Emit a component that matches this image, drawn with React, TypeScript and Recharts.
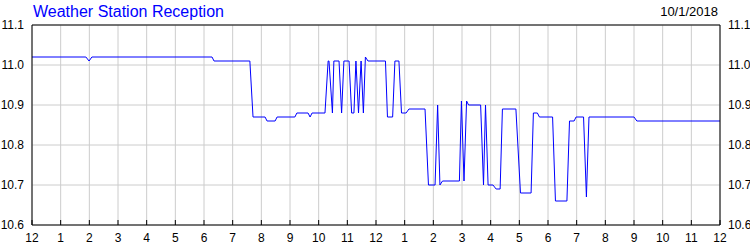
import React from "react";
import {
  LineChart,
  Line,
  XAxis,
  YAxis,
  CartesianGrid,
  ReferenceLine,
} from "recharts";

// hours since midnight
const hours = [
  0, 1.88, 1.99, 2.09, 6.28, 6.35, 7.6, 7.71, 8.13, 8.2, 8.48, 8.55, 9.17,
  9.24, 9.63, 9.7, 9.77, 10.22, 10.33, 10.36, 10.48, 10.53, 10.71, 10.8, 10.88,
  11.06, 11.15, 11.23, 11.3, 11.39, 11.48, 11.56, 11.63, 11.72, 12.33, 12.4,
  12.58, 12.66, 12.8, 12.89, 13.05, 13.15, 13.71, 13.83, 14.06, 14.15, 14.23,
  14.32, 14.91, 14.98, 15.07, 15.16, 15.23, 15.65, 15.75, 15.82, 15.91, 16.08,
  16.19, 16.33, 16.41, 16.88, 17.04, 17.41, 17.49, 17.63, 17.7, 18.16, 18.26,
  18.66, 18.75, 18.91, 18.98, 19.24, 19.34, 19.43, 21.0, 21.1, 24,
];

const reception = [
  11.02, 11.02, 11.01, 11.02, 11.02, 11.01, 11.01, 10.87, 10.87, 10.86, 10.86,
  10.87, 10.87, 10.88, 10.88, 10.87, 10.88, 10.88, 11.01, 11.01, 10.88, 11.01,
  11.01, 10.88, 11.01, 11.01, 10.88, 10.88, 11.01, 10.88, 11.01, 10.88, 11.02,
  11.01, 11.01, 10.87, 10.87, 11.01, 11.01, 10.88, 10.88, 10.89, 10.89, 10.7,
  10.7, 10.9, 10.7, 10.71, 10.71, 10.91, 10.71, 10.91, 10.9, 10.9, 10.7, 10.9,
  10.7, 10.7, 10.69, 10.69, 10.89, 10.89, 10.68, 10.68, 10.88, 10.88, 10.87,
  10.87, 10.66, 10.66, 10.86, 10.86, 10.87, 10.87, 10.67, 10.87, 10.87, 10.86,
  10.86,
];

const hourTicks = [
  0, 1, 2, 3, 4, 5, 6, 7, 8, 9, 10, 11, 12, 13, 14, 15, 16, 17, 18, 19, 20, 21,
  22, 23, 24,
];
const valueTicks = [10.6, 10.7, 10.8, 10.9, 11.0, 11.1];

const data = hours.map((h, i) => ({ h, v: reception[i] }));

const font = "'Liberation Sans', Arial, sans-serif";

const HourTick = (props: any) => {
  const { x, y, payload } = props;
  const label = payload.value % 12 === 0 ? 12 : payload.value % 12;
  return (
    <g>
      <line x1={x} x2={x} y1={y - 13} y2={y - 8} stroke="#000" />
      <text
        x={x}
        y={y}
        dy="0.71em"
        textAnchor="middle"
        fontSize={12}
        fontFamily={font}
        fill="#000"
      >
        {label}
      </text>
    </g>
  );
};

export default function App() {
  return (
    <div style={{ position: "absolute", left: 0, top: 0, width: 750, height: 250 }}>
      <div
        style={{
          position: "absolute",
          left: 33,
          top: 4,
          fontFamily: font,
          fontSize: 16,
          lineHeight: "16px",
          color: "#0000ff",
          whiteSpace: "nowrap",
        }}
      >
        Weather Station Reception
      </div>
      <div
        style={{
          position: "absolute",
          right: 32,
          top: 5,
          fontFamily: font,
          fontSize: 13,
          lineHeight: "13px",
          color: "#000",
        }}
      >
        10/1/2018
      </div>
      <LineChart
        width={750}
        height={250}
        data={data}
        margin={{ top: 25, right: 0, left: 0, bottom: 0 }}
      >
        <CartesianGrid stroke="#cccccc" yAxisId="left" />
        <XAxis
          dataKey="h"
          type="number"
          domain={[0, 24]}
          ticks={hourTicks}
          interval={0}
          height={25}
          axisLine={{ stroke: "#000" }}
          tickLine={false}
          tick={<HourTick />}
        />
        <YAxis
          yAxisId="left"
          domain={[10.6, 11.1]}
          ticks={valueTicks}
          interval={0}
          width={32}
          axisLine={{ stroke: "#000" }}
          tickLine={false}
          tickFormatter={(v: number) => v.toFixed(1)}
          tick={{ fontSize: 12, fontFamily: font, fill: "#000" }}
        />
        <YAxis
          yAxisId="right"
          orientation="right"
          type="number"
          domain={[10.6, 11.1]}
          allowDataOverflow
          ticks={valueTicks}
          interval={0}
          width={30}
          axisLine={{ stroke: "#000" }}
          tickLine={false}
          tickFormatter={(v: number) => v.toFixed(1)}
          tick={{ fontSize: 12, fontFamily: font, fill: "#000" }}
        />
        <ReferenceLine yAxisId="left" y={11.1} stroke="#000" />
        <Line
          yAxisId="left"
          type="linear"
          dataKey="v"
          stroke="#0000ff"
          strokeWidth={1}
          dot={false}
          isAnimationActive={false}
        />
      </LineChart>
    </div>
  );
}
